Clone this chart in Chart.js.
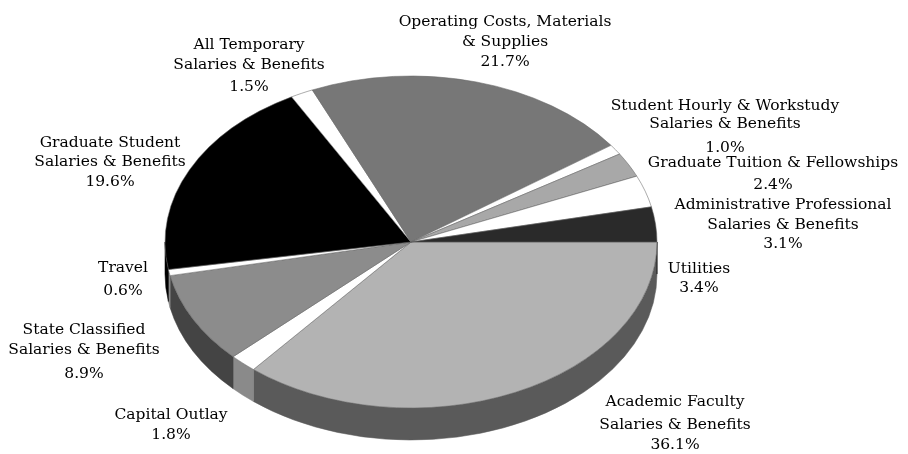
<!DOCTYPE html>
<html>
<head>
<meta charset="utf-8">
<script src="https://cdn.jsdelivr.net/npm/chart.js@4.4.1/dist/chart.umd.min.js"></script>
<style>
  html, body { margin: 0; padding: 0; background: #fff; }
  #wrap { width: 908px; height: 454px; position: relative; }
</style>
</head>
<body>
<div id="wrap"><canvas id="budgetPie"></canvas></div>
<script>
// slices listed clockwise starting at 3 o'clock
const categories = [
  ['Academic Faculty', 'Salaries & Benefits'],
  ['Capital Outlay'],
  ['State Classified', 'Salaries & Benefits'],
  ['Travel'],
  ['Graduate Student', 'Salaries & Benefits'],
  ['All Temporary', 'Salaries & Benefits'],
  ['Operating Costs, Materials', '& Supplies'],
  ['Student Hourly & Workstudy', 'Salaries & Benefits'],
  ['Graduate Tuition & Fellowships'],
  ['Administrative Professional', 'Salaries & Benefits'],
  ['Utilities']
];
const shares = [36.1, 1.8, 8.9, 0.6, 19.6, 1.5, 21.7, 1.0, 2.4, 3.1, 3.4];

const topColors  = ['#b3b3b3', '#ffffff', '#8c8c8c', '#ffffff', '#000000', '#ffffff', '#777777', '#ffffff', '#a8a8a8', '#ffffff', '#2a2a2a'];
const sideColors = ['#5a5a5a', '#8a8a8a', '#444444', '#8a8a8a', '#000000', '#8a8a8a', '#3c3c3c', '#8a8a8a', '#555555', '#8a8a8a', '#151515'];

// label anchors: x, then y of each text line (last one is the percentage)
const labelSpots = [
  [675, 402, 425, 445],
  [171, 415, 435],
  [84, 330, 350, 374],
  [123, 268, 291],
  [110, 143, 162, 182],
  [249, 45, 65, 87],
  [505, 22, 42, 62],
  [725, 106, 124, 148],
  [773, 163, 185],
  [783, 205, 225, 244],
  [699, 269, 288]
];

// projected ellipse of the pie top
const CX = 411, CY = 242, RX = 246, RY = 166, DEPTH = 32;

const tiltPlugin = {
  id: 'tilt',
  beforeDatasetsDraw(chart) {
    const ctx = chart.ctx;
    const arcs = chart.getDatasetMeta(0).data;
    const x = arcs[0].x, y = arcs[0].y, r = arcs[0].outerRadius;
    const sx = RX / r, sy = RY / r;
    ctx.save();
    ctx.translate(CX, CY);
    ctx.scale(sx, sy);
    ctx.translate(-x, -y);
    const d = DEPTH / sy;
    // side walls for the front half
    arcs.forEach((arc, i) => {
      const s = arc.startAngle, e = arc.endAngle;
      [[0, Math.PI], [2 * Math.PI, 3 * Math.PI]].forEach(([lo, hi]) => {
        const a = Math.max(s, lo), b = Math.min(e, hi);
        if (b <= a) return;
        ctx.beginPath();
        ctx.arc(x, y, r, a, b);
        ctx.lineTo(x + r * Math.cos(b), y + r * Math.sin(b) + d);
        ctx.arc(x, y + d, r, b, a, true);
        ctx.closePath();
        ctx.fillStyle = sideColors[i];
        ctx.fill();
        ctx.lineWidth = 0.6;
        ctx.strokeStyle = sideColors[i];
        ctx.stroke();
      });
    });
  },
  afterDatasetsDraw(chart) {
    chart.ctx.restore();
  },
  afterDraw(chart) {
    const ctx = chart.ctx;
    ctx.save();
    ctx.font = '15.5px "DejaVu Serif"';
    ctx.fillStyle = '#000';
    ctx.textAlign = 'center';
    ctx.textBaseline = 'middle';
    categories.forEach((lines, i) => {
      const spot = labelSpots[i];
      const texts = lines.concat([shares[i].toFixed(1) + '%']);
      texts.forEach((t, j) => ctx.fillText(t, spot[0], spot[j + 1]));
    });
    ctx.restore();
  }
};

new Chart(document.getElementById('budgetPie'), {
  type: 'pie',
  data: {
    labels: categories.map(c => c.join(' ')),
    datasets: [{
      data: shares,
      backgroundColor: topColors,
      borderColor: '#666',
      borderWidth: 0.6
    }]
  },
  options: {
    responsive: true,
    maintainAspectRatio: false,
    devicePixelRatio: 1,
    animation: false,
    rotation: 90,
    plugins: {
      legend: { display: false },
      tooltip: { enabled: false }
    }
  },
  plugins: [tiltPlugin]
});
</script>
</body>
</html>
